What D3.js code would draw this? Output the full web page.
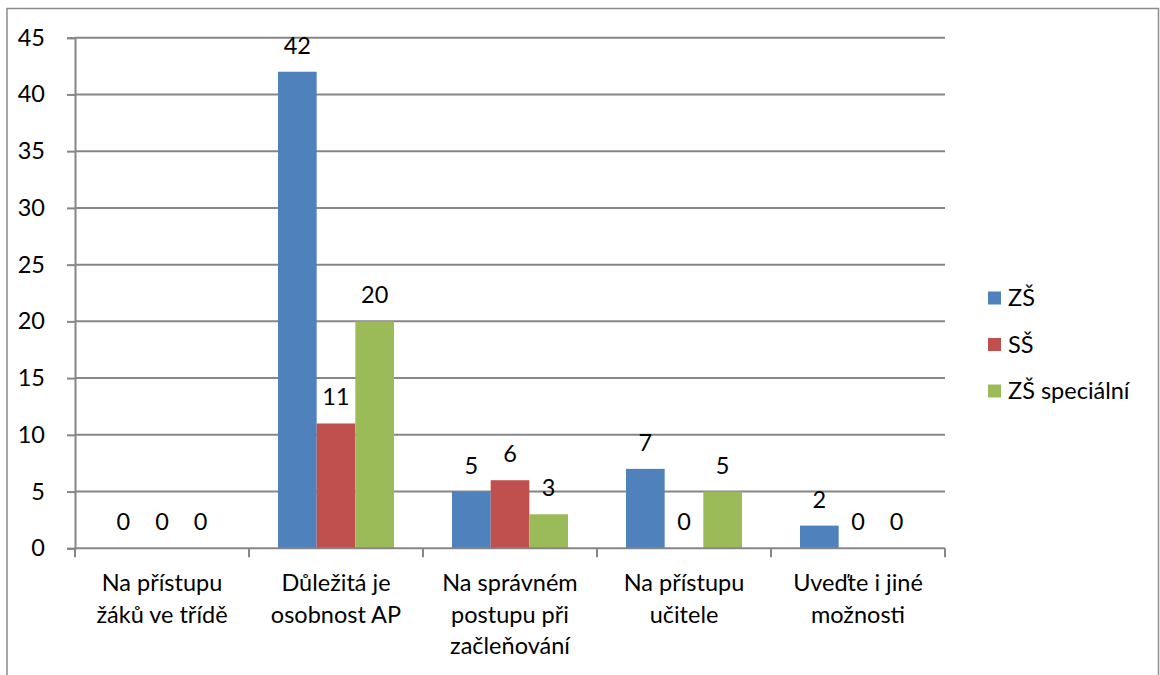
<!DOCTYPE html>
<html><head><meta charset="utf-8">
<script src="https://cdn.jsdelivr.net/npm/d3@7"></script>
<style>body{margin:0;background:#fff}svg{display:block}text{font-family:Lato,"Open Sans",sans-serif;fill:#000}</style>
</head><body><svg id="c" width="1160" height="675"></svg>
<script>
const categories = [["Na přístupu","žáků ve třídě"],["Důležitá je","osobnost AP"],["Na správném","postupu při","začleňování"],["Na přístupu","učitele"],["Uveďte i jiné","možnosti"]];
const seriesNames = ["ZŠ","SŠ","ZŠ speciální"];
const zs = [0,42,5,7,2];
const ss = [0,11,6,0,0];
const zsSpec = [0,20,3,5,0];
const yTicks = [0,5,10,15,20,25,30,35,40,45];
const colors = ["#4F81BD","#C0504D","#9BBB59"];
const series = [zs, ss, zsSpec];

const FS = 23.5;
const svg = d3.select("#c");
const L=75, R=945, T=37.7, B=548.3;
svg.append("rect").attr("x",7).attr("y",8.5).attr("width",1151.5).attr("height",700).attr("fill","none").attr("stroke","#8c8c8c").attr("stroke-width",1.5);

const y = d3.scaleLinear().domain([0,45]).range([B,T]);
const x0 = d3.scaleBand().domain(d3.range(categories.length)).range([L,R]).paddingInner(0).paddingOuter(0);
const x1 = d3.scaleBand().domain(d3.range(3)).range([x0.bandwidth()*0.75/4.5, x0.bandwidth()*3.75/4.5]);

// grid
svg.append("g").selectAll("line").data(yTicks.filter(d=>d>0)).join("line")
 .attr("x1",L).attr("x2",R).attr("y1",d=>y(d)).attr("y2",d=>y(d)).attr("stroke","#868686").attr("stroke-width",2);

// y axis
const ya = svg.append("g").attr("transform",`translate(${L},0)`).call(d3.axisLeft(y).tickValues(yTicks).tickSize(8).tickPadding(22));
ya.select(".domain").attr("stroke","#868686").attr("stroke-width",2);
ya.selectAll(".tick line").attr("stroke","#868686").attr("stroke-width",2);
ya.selectAll("text").attr("font-size",FS).attr("fill","#000").style("font-family","Lato");

// bars
const g = svg.append("g");
series.forEach((s,si)=>{
  g.selectAll(null).data(s).join("rect")
   .attr("x",(d,i)=>x0(i)+x1(si)).attr("width",x1.bandwidth())
   .attr("y",d=>y(d)).attr("height",d=>B-y(d)).attr("fill",colors[si]);
  g.selectAll(null).data(s).join("text")
   .attr("x",(d,i)=>x0(i)+x1(si)+x1.bandwidth()/2).attr("y",d=>y(d)-18)
   .attr("text-anchor","middle").attr("font-size",FS).text(d=>d);
});

// x axis
const xa = svg.append("g");
xa.append("line").attr("x1",L).attr("x2",R).attr("y1",B).attr("y2",B).attr("stroke","#868686").attr("stroke-width",2);
xa.selectAll(".tk").data(d3.range(categories.length+1)).join("line")
 .attr("x1",i=>L+i*x0.bandwidth()).attr("x2",i=>L+i*x0.bandwidth()).attr("y1",B).attr("y2",B+9).attr("stroke","#868686").attr("stroke-width",2);
categories.forEach((lines,i)=>{
  const t = xa.append("text").attr("text-anchor","middle").attr("font-size",FS);
  lines.forEach((ln,j)=>t.append("tspan").attr("x",x0(i)+x0.bandwidth()/2).attr("y",591+j*31.5).text(ln));
});

// legend
const lg = svg.append("g");
seriesNames.forEach((n,i)=>{
  const cy = 298 + i*46.5;
  lg.append("rect").attr("x",988).attr("y",cy-6.5).attr("width",13).attr("height",13).attr("fill",colors[i]);
  lg.append("text").attr("x",1008).attr("y",cy+8).attr("font-size",FS).text(n);
});
</script></body></html>
